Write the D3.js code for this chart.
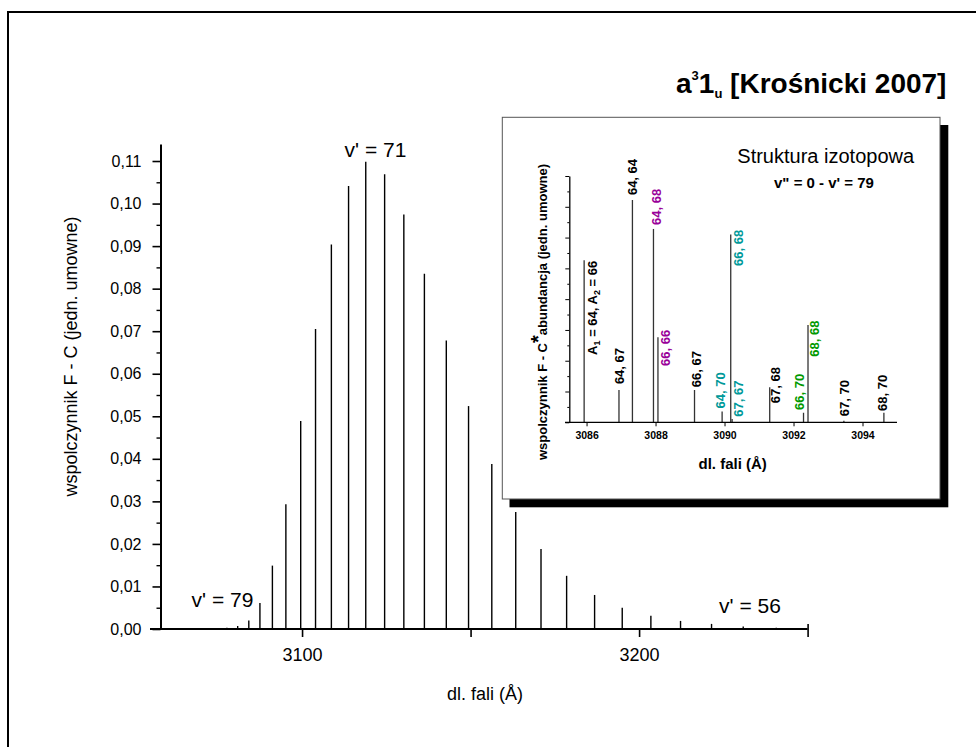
<!DOCTYPE html>
<html><head><meta charset="utf-8">
<script src="https://cdn.jsdelivr.net/npm/d3@7"></script>
<style>
body{margin:0;background:#fff;}
svg{display:block;font-family:"Liberation Sans",Arial,sans-serif;}
</style></head><body>
<svg id="c" width="976" height="747"></svg>
<script>
// ---------- main chart data ----------
const mainWavelengths = [3060.4, 3063.1, 3065.9, 3068.7, 3071.6, 3074.6, 3077.7, 3080.9,
  3084.2, 3087.5, 3091.2, 3095.2, 3099.6, 3104.0, 3108.7, 3113.8, 3118.9, 3124.5, 3130.2,
  3136.3, 3142.8, 3149.4, 3156.3, 3163.4, 3170.9, 3178.5, 3186.8, 3195.0, 3203.5, 3212.3,
  3221.5, 3230.9, 3240.7];
const mainValues = [0.0001, 0.0001, 0.0001, 0.0001, 0.0001, 0.00015, 0.0003, 0.0007,
  0.0020, 0.0061, 0.0149, 0.0293, 0.0489, 0.0705, 0.0904, 0.1041, 0.1098, 0.1069, 0.0974,
  0.0835, 0.0678, 0.0524, 0.0388, 0.0275, 0.0188, 0.0125, 0.0080, 0.0050, 0.0031, 0.0019,
  0.0012, 0.0006, 0.0003];
const mainYTicks = [0, 0.01, 0.02, 0.03, 0.04, 0.05, 0.06, 0.07, 0.08, 0.09, 0.10, 0.11];
const mainYMinorTicks = [0.005, 0.015, 0.025, 0.035, 0.045, 0.055, 0.065, 0.075, 0.085, 0.095, 0.105];
const mainXTicks = [3100, 3150, 3200, 3250];
const mainXTickLabels = ["3100", "", "3200", ""];
const vLabelTexts = ["v' = 71", "v' = 79", "v' = 56"];
const vLabelX = [3121.8, 3076.4, 3232.9];
const vLabelY = [0.1109, 0.00524, 0.00369];

// ---------- inset data ----------
const isoWavelengths = [3085.93, 3086.94, 3087.33, 3087.94, 3088.07, 3089.13, 3089.93,
  3090.18, 3090.22, 3091.31, 3092.29, 3092.42, 3093.46, 3094.62];
const isoValues = [5.26, 1.05, 7.22, 6.28, 2.76, 1.05, 0.35, 6.10, 0.11, 1.14, 0.31, 3.16, 0.05, 0.31];
const isoLabels = ["A1", "64, 67", "64, 64", "64, 68", "66, 66", "66, 67", "64, 70", "66, 68",
  "67, 67", "67, 68", "66, 70", "68, 68", "67, 70", "68, 70"];
const isoLabelColors = ["#000", "#000", "#000", "#990099", "#990099", "#000", "#009999", "#009999",
  "#009999", "#000", "#009900", "#009900", "#000", "#000"];
const isoLabelX = [3086.30, 3087.09, 3087.46, 3088.16, 3088.42, 3089.32, 3090.02, 3090.54,
  3090.54, 3091.61, 3092.31, 3092.75, 3093.61, 3094.71];
const isoLabelY = [2.19, 1.24, 7.38, 6.41, 1.83, 1.14, 0.45, 5.08, 0.18, 0.62, 0.40, 2.13, 0.20, 0.37];
const isoXTicks = [3086, 3088, 3090, 3092, 3094];
const isoYTicks = [0, 1, 2, 3, 4, 5, 6, 7, 8];
const isoYMinorTicks = [0.5, 1.5, 2.5, 3.5, 4.5, 5.5, 6.5, 7.5];

const svg = d3.select("#c");

// outer frame
svg.append("rect").attr("x", 8).attr("y", 12).attr("width", 1000).attr("height", 800)
  .attr("fill", "none").attr("stroke", "#000").attr("stroke-width", 2);

// ---------- main chart ----------
const x = d3.scaleLinear().domain([3058, 3250]).range([160.5, 807.6]);
const y = d3.scaleLinear().domain([0, 0.114]).range([629, 144]);

svg.append("g").selectAll("line").data(mainWavelengths).join("line")
  .attr("x1", d => x(d)).attr("x2", d => x(d))
  .attr("y1", y(0)).attr("y2", (d, i) => y(mainValues[i]))
  .attr("stroke", "#000").attr("stroke-width", 1.4);

// y axis
const yAx = svg.append("g").attr("transform", `translate(${x(3058)},0)`)
  .call(d3.axisLeft(y).tickValues(mainYTicks).tickSize(8).tickSizeOuter(0).tickPadding(11)
    .tickFormat(d => d3.format(".2f")(d).replace(".", ",")));
yAx.select(".domain").attr("stroke-width", 2);
yAx.selectAll(".tick line").attr("stroke-width", 1.6);
yAx.selectAll("text").attr("font-size", 16).attr("fill", "#000")
  .attr("font-family", '"Liberation Sans",Arial,sans-serif');
const yMin = svg.append("g").attr("transform", `translate(${x(3058)},0)`)
  .call(d3.axisLeft(y).tickValues(mainYMinorTicks).tickSize(4).tickSizeOuter(0).tickFormat(""));
yMin.select(".domain").remove();
yMin.selectAll(".tick line").attr("stroke-width", 1.4);

// x axis
const xAx = svg.append("g").attr("transform", `translate(0,${y(0)})`)
  .call(d3.axisBottom(x).tickValues(mainXTicks).tickSize(8).tickSizeOuter(0).tickPadding(11)
    .tickFormat((d, i) => mainXTickLabels[i]));
xAx.select(".domain").remove();
xAx.selectAll(".tick line").attr("stroke-width", 1.6);
xAx.selectAll(".tick").filter(d => d === 3250).select("line").attr("y1", -5);
xAx.selectAll("text").attr("font-size", 18).attr("fill", "#000")
  .attr("font-family", '"Liberation Sans",Arial,sans-serif');
svg.append("line").attr("x1", 150).attr("x2", x(3250)).attr("y1", y(0)).attr("y2", y(0))
  .attr("stroke", "#000").attr("stroke-width", 2);

// axis titles
svg.append("text").attr("transform", "translate(77,356.5) rotate(-90)")
  .attr("text-anchor", "middle").attr("font-size", 18).text("wspolczynnik F - C (jedn. umowne)");
svg.append("text").attr("x", 485).attr("y", 700).attr("text-anchor", "middle")
  .attr("font-size", 18).text("dl. fali (Å)");

// v' labels
svg.append("g").selectAll("text").data(vLabelTexts).join("text")
  .attr("x", (d, i) => x(vLabelX[i])).attr("y", (d, i) => y(vLabelY[i]))
  .attr("text-anchor", "middle").attr("font-size", 21).text(d => d);

// title
const title = svg.append("text").attr("x", 676).attr("y", 93)
  .attr("font-weight", "bold").attr("font-size", 28);
title.append("tspan").text("a");
title.append("tspan").attr("font-size", 13).attr("dy", -13).text("3");
title.append("tspan").attr("dy", 13).text("1");
title.append("tspan").attr("font-size", 13).attr("dy", 5).text("u");
title.append("tspan").attr("dy", -5).text(" [Krośnicki 2007]");

// ---------- inset ----------
svg.append("rect").attr("x", 509.5).attr("y", 125).attr("width", 438.8).attr("height", 382.3)
  .attr("fill", "#000");
svg.append("rect").attr("x", 502.3).attr("y", 117.3).attr("width", 437.7).attr("height", 381.7)
  .attr("fill", "#fff").attr("stroke", "#555").attr("stroke-width", 1);

const ix = d3.scaleLinear().domain([3085.5, 3095]).range([569.3, 897]);
const iy = d3.scaleLinear().domain([0, 8]).range([422.3, 176]);

svg.append("g").selectAll("line").data(isoWavelengths).join("line")
  .attr("x1", d => ix(d)).attr("x2", d => ix(d))
  .attr("y1", iy(0)).attr("y2", (d, i) => iy(isoValues[i]))
  .attr("stroke", "#333").attr("stroke-width", 1.3);

const iyAx = svg.append("g").attr("transform", `translate(${ix(3085.5)},0)`)
  .call(d3.axisLeft(iy).tickValues(isoYTicks).tickSize(4).tickSizeOuter(0).tickFormat(""));
iyAx.select(".domain").attr("stroke-width", 1.3);
const iyMin = svg.append("g").attr("transform", `translate(${ix(3085.5)},0)`)
  .call(d3.axisLeft(iy).tickValues(isoYMinorTicks).tickSize(2).tickSizeOuter(0).tickFormat(""));
iyMin.select(".domain").remove();

const ixAx = svg.append("g").attr("transform", `translate(0,${iy(0)})`)
  .call(d3.axisBottom(ix).tickValues(isoXTicks).tickSize(4).tickSizeOuter(0).tickPadding(5)
    .tickFormat(d3.format("d")));
ixAx.select(".domain").remove();
ixAx.selectAll("text").attr("font-size", 10.5).attr("font-weight", "bold").attr("fill", "#000")
  .attr("font-family", '"Liberation Sans",Arial,sans-serif');
svg.append("line").attr("x1", 565).attr("x2", ix(3095)).attr("y1", iy(0)).attr("y2", iy(0))
  .attr("stroke", "#000").attr("stroke-width", 1.3);

// isotope labels
isoLabels.forEach((lab, i) => {
  const t = svg.append("text")
    .attr("transform", `translate(${ix(isoLabelX[i])},${iy(isoLabelY[i])}) rotate(-90)`)
    .attr("font-size", 13).attr("font-weight", "bold").attr("fill", isoLabelColors[i]);
  if (lab === "A1") {
    t.append("tspan").text("A");
    t.append("tspan").attr("font-size", 9).attr("dy", 3).text("1");
    t.append("tspan").attr("dy", -3).text(" = 64, A");
    t.append("tspan").attr("font-size", 9).attr("dy", 3).text("2");
    t.append("tspan").attr("dy", -3).text(" = 66");
  } else {
    t.text(lab);
  }
});

// inset texts
svg.append("text").attr("x", 825.7).attr("y", 162.7).attr("text-anchor", "middle")
  .attr("font-size", 20).text("Struktura izotopowa");
svg.append("text").attr("x", 824).attr("y", 187.7).attr("text-anchor", "middle")
  .attr("font-size", 15).attr("font-weight", "bold").text("v\" = 0 - v' = 79");
svg.append("text").attr("x", 732.7).attr("y", 469.3).attr("text-anchor", "middle")
  .attr("font-size", 15).attr("font-weight", "bold").text("dl. fali (Å)");
const iyt = svg.append("text").attr("transform", "translate(547,312) rotate(-90)")
  .attr("text-anchor", "middle").attr("font-size", 13).attr("font-weight", "bold");
iyt.append("tspan").text("wspolczynnik F - C");
iyt.append("tspan").attr("font-size", 20).attr("dy", -2).text("*");
iyt.append("tspan").attr("dy", 2).text("abundancja (jedn. umowne)");
</script>
</body></html>
